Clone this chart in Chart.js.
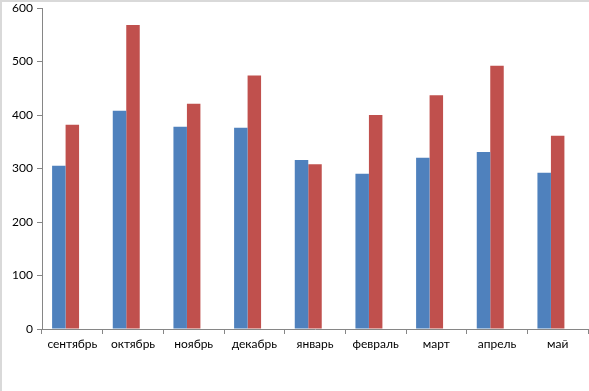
<!DOCTYPE html>
<html>
<head>
<meta charset="utf-8">
<script src="https://cdn.jsdelivr.net/npm/chart.js@4"></script>
<style>
  body { margin: 0; background: #fff; }
  #wrap { width: 589px; height: 391px; position: relative; }
</style>
</head>
<body>
<div id="wrap"><canvas id="myChart" width="589" height="391"></canvas></div>
<script>
const months = ["сентябрь", "октябрь", "ноябрь", "декабрь", "январь", "февраль", "март", "апрель", "май"];
const seriesBlue = [305, 408, 378, 376, 316, 290, 320, 331, 292];
const seriesRed = [382, 568, 421, 474, 308, 400, 437, 492, 361];
const seriesEmpty = [null, null, null, null, null, null, null, null, null];
const yTicks = [0, 100, 200, 300, 400, 500, 600];

// light gray frame on top and left edges, as in the original
const framePlugin = {
    id: "frame",
    beforeDraw(chart) {
        const c = chart.ctx;
        c.save();
        c.fillStyle = "#fff";
        c.fillRect(0, 0, chart.width, chart.height);
        c.strokeStyle = "#d9d9d9";
        c.lineWidth = 2;
        c.beginPath();
        c.moveTo(1, chart.height);
        c.lineTo(1, 1);
        c.lineTo(chart.width, 1);
        c.stroke();
        c.restore();
    },
};

const axisColor = "#868686";
const ctx = document.getElementById("myChart").getContext("2d");
new Chart(ctx, {
    type: "bar",
    data: {
        labels: months,
        datasets: [
            { data: seriesBlue, backgroundColor: "#4f81bd" },
            { data: seriesRed, backgroundColor: "#c0504d" },
            { data: seriesEmpty, backgroundColor: "transparent" },
        ],
    },
    options: {
        responsive: false,
        animation: false,
        layout: { padding: { top: 8, right: 1, left: 0, bottom: 0 } },
        datasets: {
            bar: { categoryPercentage: 0.667, barPercentage: 1 },
        },
        plugins: {
            legend: { display: false },
            tooltip: { enabled: false },
        },
        scales: {
            x: {
                grid: {
                    display: true,
                    drawOnChartArea: false,
                    offset: true,
                    tickLength: 5,
                    color: axisColor,
                },
                border: { color: axisColor, width: 1 },
                ticks: {
                    color: "#000",
                    padding: 3,
                    maxRotation: 0,
                    font: { family: "Lato", size: 12 },
                },
                afterFit(scale) {
                    scale.height = 62;
                },
            },
            y: {
                min: 0,
                max: 600,
                afterBuildTicks(scale) {
                    scale.ticks = yTicks.map((v) => ({ value: v }));
                },
                grid: {
                    drawOnChartArea: false,
                    tickLength: 5,
                    color: axisColor,
                },
                border: { color: axisColor, width: 1 },
                ticks: {
                    color: "#000",
                    padding: 4,
                    font: { family: "Lato", size: 12 },
                },
                afterFit(scale) {
                    scale.width = 42;
                    scale.paddingTop = 0;
                    scale.paddingBottom = 0;
                },
            },
        },
    },
    plugins: [framePlugin],
});
</script>
</body>
</html>
